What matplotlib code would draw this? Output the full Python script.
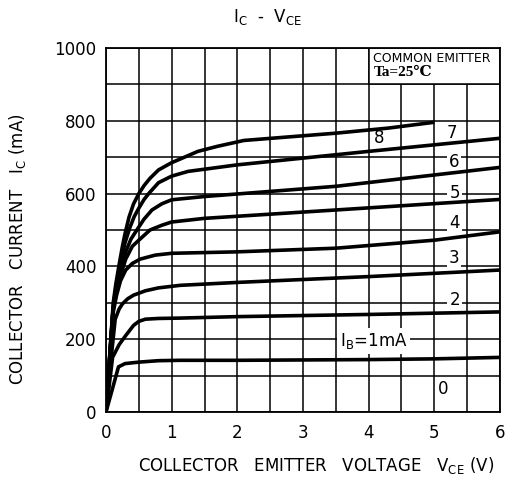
import matplotlib
matplotlib.use("Agg")
import matplotlib.pyplot as plt
from matplotlib.patches import Rectangle

# Ic - Vce family, one curve per base current (mA)
v_1 = [0, 0.1, 0.19, 0.29, 0.5, 0.8, 1.13, 2.0, 3.0, 4.0, 5.0, 6.0]
i_1 = [0, 65, 124, 133, 137, 141, 142, 142, 143, 144, 146, 150]

v_2 = [0, 0.1, 0.2, 0.3, 0.42, 0.5, 0.6, 0.8, 1.13, 2.0, 4.0, 6.0]
i_2 = [0, 150, 185, 210, 238, 249, 255, 257, 258, 262, 268, 275]

v_3 = [0, 0.05, 0.14, 0.2, 0.25, 0.33, 0.42, 0.6, 0.8, 1.13, 2.0, 4.0, 6.0]
i_3 = [0, 100, 255, 283, 297, 311, 321, 333, 341, 348, 356, 372, 390]

v_4 = [0, 0.05, 0.1, 0.16, 0.22, 0.3, 0.4, 0.52, 0.75, 1.0, 2.0, 3.5, 5.0, 6.0]
i_4 = [0, 130, 265, 320, 360, 390, 408, 420, 431, 436, 440, 450, 472, 495]

v_5 = [0, 0.05, 0.11, 0.16, 0.22, 0.3, 0.4, 0.5, 0.67, 0.85, 1.0, 1.5, 3.5, 6.0]
i_5 = [0, 132, 280, 330, 375, 420, 455, 472, 500, 513, 522, 532, 555, 584]

v_6 = [0, 0.05, 0.11, 0.16, 0.22, 0.3, 0.38, 0.47, 0.58, 0.7, 0.85, 1.0, 1.5, 3.5, 6.0]
i_6 = [0, 134, 285, 340, 390, 440, 475, 500, 530, 555, 572, 583, 592, 620, 672]

v_7 = [0, 0.05, 0.11, 0.16, 0.22, 0.29, 0.36, 0.43, 0.5, 0.58, 0.65, 0.8, 1.0, 1.25,
       2.0, 4.0, 6.0]
i_7 = [0, 136, 290, 350, 410, 465, 505, 537, 560, 584, 600, 630, 648, 661,
       679, 716, 752]

v_8 = [0, 0.05, 0.11, 0.15, 0.2, 0.25, 0.29, 0.35, 0.42, 0.5, 0.58, 0.67, 0.8, 1.0,
       1.13, 1.4, 1.7, 2.1, 2.8, 3.5, 4.3, 5.0]
i_8 = [0, 138, 300, 352, 405, 455, 490, 535, 572, 600, 622, 642, 665, 685,
       695, 716, 730, 746, 756, 766, 780, 796]

curves = [(v_1, i_1), (v_2, i_2), (v_3, i_3), (v_4, i_4),
          (v_5, i_5), (v_6, i_6), (v_7, i_7), (v_8, i_8)]

# curve labels: text, Vce, Ic
label_text = ["8", "7", "6", "5", "4", "3", "2", "0"]
label_v    = [4.16, 5.26, 5.30, 5.31, 5.31, 5.30, 5.31, 5.14]
label_i    = [752, 766, 688, 603, 518, 422, 309, 64]

x_ticks = [0, 1, 2, 3, 4, 5, 6]
y_ticks = [0, 200, 400, 600, 800, 1000]

plt.rcParams["font.family"] = ["DejaVu Sans"]

fig = plt.figure(figsize=(5.28, 4.82), dpi=100)
ax = fig.add_axes([106 / 528, 1 - 412 / 482, 394 / 528, 364 / 482])

grid_x = [k * 0.5 for k in range(13)]
grid_y = list(range(0, 1001, 100))

ax.set_xlim(0, 6)
ax.set_ylim(0, 1000)
ax.set_xticks(grid_x)
ax.set_yticks(grid_y)
ax.set_xticklabels([str(int(x)) if x in x_ticks else "" for x in grid_x], fontsize=12)
ax.set_yticklabels([str(y) if y in y_ticks else "" for y in grid_y], fontsize=12)
ax.tick_params(axis="x", length=0, pad=9)
ax.tick_params(axis="y", length=0, pad=7)
ax.set_axisbelow(True)
ax.grid(True, color="black", linewidth=1.1)
for s in ax.spines.values():
    s.set_linewidth(1.3)

# box for the test conditions, hides the grid behind it
ax.add_patch(Rectangle((4, 900), 2, 100, facecolor="white", edgecolor="black",
                       linewidth=1.1, zorder=1))
ax.text(4.07, 990, "COMMON EMITTER", fontsize=9, va="top", ha="left", zorder=1.5)
ax.text(4.07, 950, "Ta=25℃", fontsize=11, va="top", ha="left", zorder=1.5,
        weight="bold", family=["Liberation Serif", "DejaVu Serif", "DejaVu Sans"])

for vs, cs in curves:
    ax.plot(vs, cs, color="black", linewidth=2.6, solid_capstyle="butt", zorder=2.5)

for t, v, i in zip(label_text, label_v, label_i):
    ax.text(v, i, t, fontsize=12, ha="center", va="center", zorder=1.5,
            bbox=dict(facecolor="white", edgecolor="none", pad=1.5))

ax.text(4.07, 195, r"I$_\mathregular{B}$=1mA", fontsize=12, ha="center", va="center",
        zorder=1.5, bbox=dict(facecolor="white", edgecolor="none", pad=2))

fig.text(268 / 528, 1 - 17 / 482, r"I$_\mathregular{C}$  -  V$_\mathregular{CE}$",
         fontsize=12, ha="center", va="center")
fig.text(316 / 528, 1 - 465 / 482,
         r"COLLECTOR   EMITTER   VOLTAGE   V$_\mathregular{CE}$ (V)",
         fontsize=12, ha="center", va="center")
fig.text(18 / 528, 1 - 249 / 482, r"COLLECTOR   CURRENT   I$_\mathregular{C}$ (mA)",
         fontsize=12, ha="center", va="center", rotation=90)

fig.savefig("out.png", dpi=100)
